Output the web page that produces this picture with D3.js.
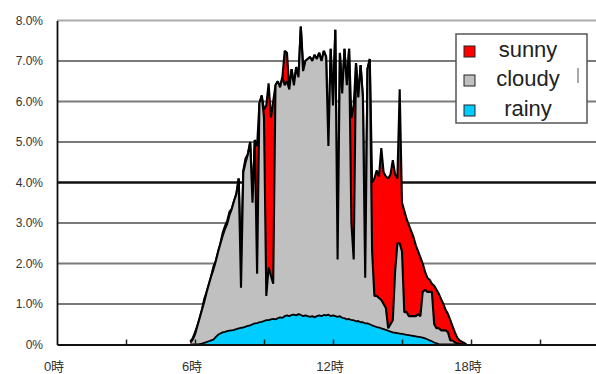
<!DOCTYPE html>
<html>
<head>
<meta charset="utf-8">
<script src="https://cdn.jsdelivr.net/npm/d3@7"></script>
<style>
  body { margin: 0; background: #fff; }
  svg { display: block; font-family: "Liberation Sans", Arial, "Noto Sans CJK JP", sans-serif; }
</style>
</head>
<body>
<svg id="chart" width="596" height="374"></svg>
<script>
// sample times (hours of the day)
const hours = [
  5.8, 5.9, 6.0, 6.1, 6.2, 6.3, 6.4, 6.5, 6.6, 6.7, 6.8, 6.9,
  7.0, 7.1, 7.2, 7.3, 7.4, 7.5, 7.6, 7.7, 7.8, 7.9,
  8.0, 8.1, 8.2, 8.3, 8.4, 8.5, 8.6, 8.7, 8.8, 8.9,
  9.0, 9.1, 9.2, 9.3, 9.4, 9.5, 9.6, 9.7, 9.8, 9.9,
  10.0, 10.1, 10.2, 10.3, 10.4, 10.5, 10.6, 10.7, 10.8, 10.9,
  11.0, 11.1, 11.2, 11.3, 11.4, 11.5, 11.6, 11.7, 11.8, 11.9,
  12.0, 12.1, 12.2, 12.3, 12.4, 12.5, 12.6, 12.7, 12.8, 12.9,
  13.0, 13.1, 13.2, 13.3, 13.4, 13.5, 13.6, 13.7, 13.8, 13.9,
  14.0, 14.1, 14.2, 14.3, 14.4, 14.5, 14.6, 14.7, 14.8, 14.9,
  15.0, 15.1, 15.2, 15.3, 15.4, 15.5, 15.6, 15.7, 15.8, 15.9,
  16.0, 16.1, 16.2, 16.3, 16.4, 16.5, 16.6, 16.7, 16.8, 16.9,
  17.0, 17.1, 17.2, 17.3, 17.4, 17.5, 17.6, 17.7, 17.8
];

// share of daily output (%)
const sunny = [
  0.08, 0.15, 0.3, 0.45, 0.65, 0.85, 1.12, 1.28, 1.48, 1.68, 1.92, 2.05,
  2.28, 2.48, 2.75, 2.92, 3.05, 3.28, 3.35, 3.55, 3.72, 4.1,
  2.0, 4.3, 4.6, 4.7, 5.0, 3.6, 5.05, 4.9, 5.95, 6.15,
  5.8, 5.9, 6.45, 5.6, 6.0, 6.4, 6.5, 6.35, 6.6, 7.25,
  7.2, 6.3, 6.8, 6.4, 6.85, 6.6, 7.85, 6.9, 7.0, 7.05,
  7.1, 7.0, 7.15, 7.05, 7.2, 7.0, 7.25, 7.1, 4.9, 7.3,
  5.9, 7.77, 2.1, 7.2, 6.2, 7.3, 6.4, 7.3, 5.6, 5.9,
  6.95, 6.1, 6.9, 6.1, 1.65, 6.8, 7.05, 4.0, 4.1, 4.3,
  4.15, 4.85, 4.25, 4.15, 4.1, 4.2, 4.55, 4.2, 4.1, 6.3,
  3.5, 3.3, 3.1, 2.95, 2.8, 2.65, 2.45, 2.3, 2.15, 2.0,
  1.8, 1.65, 1.6, 1.5, 1.45, 1.35, 1.25, 1.12, 1.0, 0.85,
  0.75, 0.6, 0.45, 0.3, 0.17, 0.1, 0.07, 0.04, 0
];
const cloudy = [
  0.05, 0.12, 0.25, 0.45, 0.65, 0.85, 1.05, 1.28, 1.48, 1.68, 1.85, 2.05,
  2.28, 2.48, 2.68, 2.85, 2.98, 3.2, 3.35, 3.55, 3.72, 4.1,
  1.4, 4.25, 4.5, 4.7, 5.0, 3.5, 5.05, 1.75, 5.95, 6.15,
  5.6, 1.2, 1.9, 1.7, 1.5, 6.4, 6.5, 6.35, 6.6, 6.4,
  6.5, 6.3, 6.8, 6.4, 6.85, 6.6, 7.85, 6.75, 7.0, 7.05,
  7.1, 7.0, 7.15, 7.05, 7.2, 7.0, 7.25, 7.1, 4.9, 7.3,
  5.9, 7.77, 2.1, 7.2, 6.2, 7.3, 6.4, 7.3, 3.0, 2.1,
  6.95, 6.1, 6.9, 6.1, 1.65, 6.8, 7.05, 2.3, 1.2, 1.2,
  1.15, 1.1, 1.0, 0.9, 0.4, 0.5, 0.6, 1.8, 2.5, 2.5,
  2.3, 0.8, 0.8, 0.7, 0.7, 0.7, 0.7, 0.75, 0.7, 1.3,
  1.35, 1.3, 1.3, 1.3, 0.5, 0.4, 0.4, 0.35, 0.35, 0.35,
  0.3, 0.1, 0.1, 0.05, 0.03, 0.02, 0, 0, 0
];
const rainy = [
  0, 0, 0, 0, 0.01, 0.02, 0.04, 0.06, 0.08, 0.1, 0.12, 0.18,
  0.24, 0.27, 0.3, 0.31, 0.33, 0.34, 0.35, 0.36, 0.38, 0.4,
  0.41, 0.42, 0.44, 0.46, 0.47, 0.5, 0.52, 0.53, 0.55, 0.56,
  0.58, 0.6, 0.6, 0.62, 0.63, 0.62, 0.65, 0.67, 0.66, 0.7,
  0.72, 0.7, 0.73, 0.74, 0.72, 0.75, 0.73, 0.7, 0.72, 0.7,
  0.68, 0.7, 0.67, 0.7, 0.72, 0.7, 0.73, 0.72, 0.74, 0.7,
  0.72, 0.7, 0.68, 0.7, 0.66, 0.65, 0.62, 0.63, 0.6, 0.6,
  0.57, 0.58, 0.55, 0.55, 0.52, 0.52, 0.5, 0.47, 0.45, 0.43,
  0.42, 0.4, 0.38, 0.36, 0.34, 0.32, 0.3, 0.29, 0.28, 0.27,
  0.26, 0.25, 0.24, 0.23, 0.22, 0.21, 0.2, 0.19, 0.18, 0.17,
  0.15, 0.13, 0.1, 0.08, 0.05, 0.03, 0.01, 0, 0, 0,
  0, 0, 0, 0, 0, 0, 0, 0, 0
];

const seriesNames = ["sunny", "cloudy", "rainy"];
const seriesColors = ["#ff0000", "#c0c0c0", "#00ccff"];

const yTicks = [0, 1, 2, 3, 4, 5, 6, 7, 8];
const yTickLabels = ["0%", "1.0%", "2.0%", "3.0%", "4.0%", "5.0%", "6.0%", "7.0%", "8.0%"];
const xLabelHours = [0, 6, 12, 18];
const xTickLabels = ["0時", "6時", "12時", "18時"];
const xMinorTicks = [3, 6, 9, 12, 15, 18, 21];

const svg = d3.select("#chart");

const x = d3.scaleLinear().domain([0, 24]).range([57, 609]);
const y = d3.scaleLinear().domain([0, 8]).range([344.5, 20.5]);

// gridlines
svg.append("g")
  .selectAll("line")
  .data(yTicks.filter(d => d > 0))
  .enter()
  .append("line")
  .attr("x1", x(0))
  .attr("x2", 596)
  .attr("y1", d => y(d))
  .attr("y2", d => y(d))
  .attr("stroke", d => d === 4 ? "#111" : (d === 8 ? "#aaa" : "#7a7a7a"))
  .attr("stroke-width", d => d === 4 ? 2.5 : 1.8);

// series, back to front
const series = [sunny, cloudy, rainy];
series.forEach((vals, k) => {
  const pts = hours.map((h, i) => [h, vals[i]]);
  const area = d3.area()
    .x(d => x(d[0]))
    .y0(y(0))
    .y1(d => y(d[1]));
  const line = d3.line()
    .x(d => x(d[0]))
    .y(d => y(d[1]));
  svg.append("path")
    .datum(pts)
    .attr("d", area)
    .attr("fill", seriesColors[k]);
  svg.append("path")
    .datum(pts)
    .attr("d", line)
    .attr("fill", "none")
    .attr("stroke", "#000")
    .attr("stroke-width", k === 2 ? 1.8 : 2.1)
    .attr("stroke-linejoin", "bevel");
});

// x axis with inward ticks
const xAxis = svg.append("g")
  .attr("transform", "translate(0," + y(0) + ")")
  .call(d3.axisBottom(x).tickValues(xMinorTicks).tickSize(-5).tickSizeOuter(0).tickFormat(""));
xAxis.select(".domain").attr("stroke", "#111").attr("stroke-width", 2);
xAxis.selectAll(".tick line").attr("stroke", "#222").attr("stroke-width", 1.5);

svg.append("g")
  .selectAll("text")
  .data(xLabelHours)
  .enter()
  .append("text")
  .attr("x", d => x(d) - 3)
  .attr("y", 371)
  .attr("text-anchor", "middle")
  .attr("font-size", 13)
  .attr("fill", "#333")
  .text((d, i) => xTickLabels[i]);

// y axis
const yAxis = svg.append("g")
  .attr("transform", "translate(" + x(0) + ",0)")
  .call(d3.axisLeft(y).tickValues(yTicks).tickSize(0).tickSizeOuter(0).tickPadding(14)
    .tickFormat((d, i) => yTickLabels[i]));
yAxis.select(".domain").attr("stroke", "#111").attr("stroke-width", 1.8);
yAxis.selectAll("text")
  .attr("font-size", 12)
  .attr("font-family", "'Liberation Sans', Arial, sans-serif")
  .attr("fill", "#333");

// legend
const legend = svg.append("g");
legend.append("rect")
  .attr("x", 456).attr("y", 34)
  .attr("width", 131).attr("height", 89)
  .attr("fill", "#fff")
  .attr("stroke", "#555")
  .attr("stroke-width", 1.5);
legend.append("rect")
  .attr("x", 577).attr("y", 68)
  .attr("width", 2).attr("height", 15)
  .attr("fill", "#aaa");

const rows = legend.selectAll("g.row")
  .data(seriesNames)
  .enter()
  .append("g")
  .attr("class", "row")
  .attr("transform", (d, i) => "translate(0," + [51, 80, 110][i] + ")");
rows.append("rect")
  .attr("x", 464).attr("y", -5)
  .attr("width", 11).attr("height", 11)
  .attr("fill", (d, i) => seriesColors[i])
  .attr("stroke", "#222")
  .attr("stroke-width", 1);
rows.append("text")
  .attr("x", 528)
  .attr("y", 6)
  .attr("text-anchor", "middle")
  .attr("font-size", 22)
  .attr("fill", "#222")
  .text(d => d);
</script>
</body>
</html>
